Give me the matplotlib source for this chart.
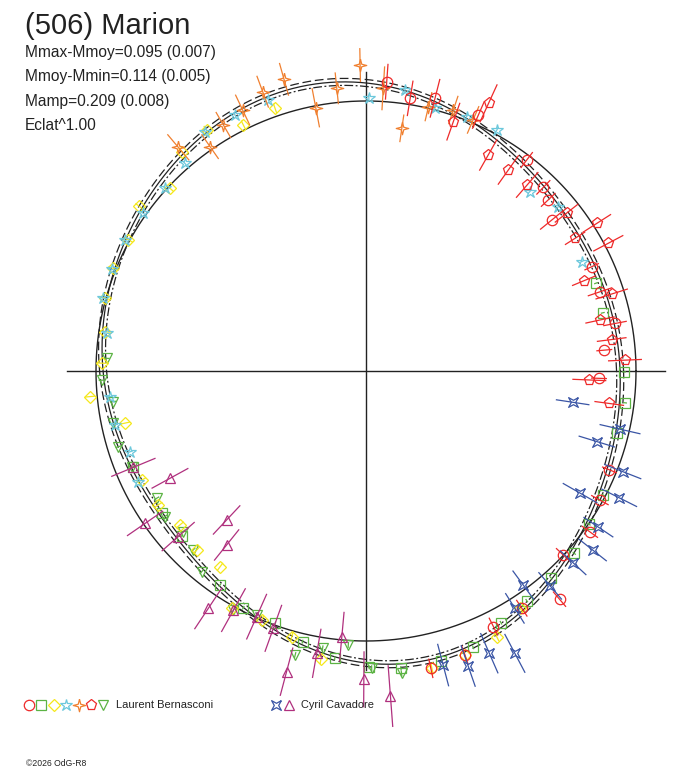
import numpy as np
import matplotlib
matplotlib.use('Agg')
import matplotlib.pyplot as plt
from matplotlib.path import Path
from matplotlib.lines import Line2D
from matplotlib.collections import LineCollection

# ---- data : angle (deg, ccw from east), radius (ref circle = 270), error ----
R_REF = 270.0
AXIS_HALF = 299.0

# fourier fit of the lightcurve (radius units)
fit_a0 = 270.5
fit_cos = [-2.76, -15.75, -1.67, 3.75]
fit_sin = [0.36, -11.98, 2.33, 1.88]
fit_band = 3.5

# Laurent Bernasconi - red circles
rc_ang = [85.9, 80.8, 75.8, 66.3, 52.7, 46.0, 43.2, 39.1, 24.8, 18.7, 10.8, 5.0,
          358.2, 337.9, 331.1, 324.3, 317.0, 310.3, 303.3, 296.5, 289.2, 282.3]
rc_r = [290.0, 276.2, 281.3, 279.5, 265.2, 255.3, 250.0, 239.3, 248.6, 247.1, 253.5, 239.2,
        233.1, 262.7, 267.2, 275.7, 269.8, 299.2, 283.8, 285.6, 300.8, 304.3]
rc_err = [18, 18, 20, 15, 10, 10, 10, 15, 8, 13, 12, 8,
          8, 8, 10, 10, 10, 10, 10, 10, 10, 10]

# green squares
gs_ang = [20.9, 13.8, 359.8, 353.0, 346.2, 332.4, 325.5, 318.8, 311.8, 305.0, 298.2, 291.2,
          284.6, 276.7, 270.6, 263.8, 256.8, 250.2, 242.6, 235.7, 221.8, 214.9, 202.4]
gs_r = [246.2, 243.8, 258.0, 260.9, 258.2, 267.8, 270.5, 276.8, 277.4, 280.3, 285.6, 296.4,
        299.4, 299.3, 296.3, 289.0, 278.0, 268.2, 266.6, 259.1, 247.4, 249.0, 251.6]
gs_err = 2

# yellow diamonds
yd_ang = [109.1, 116.5, 123.5, 130.0, 137.0, 144.0, 151.1, 157.9, 164.4, 171.4, 178.3, 185.3, 192.2,
          205.9, 212.8, 219.6, 226.6, 233.3, 240.5, 247.3, 254.4, 261.1, 282.5, 289.2, 296.2, 303.0]
yd_r = [278.0, 274.9, 288.9, 286.5, 268.0, 280.0, 271.4, 272.8, 271.0, 264.0, 264.4, 277.2, 246.6,
        249.4, 247.2, 241.5, 246.4, 244.2, 272.7, 270.0, 275.9, 291.7, 304.5, 300.8, 296.1, 282.9]
yd_err = 5

# cyan stars
cs_ang = [26.9, 40.5, 47.6, 61.5, 68.4, 75.3, 82.1, 89.4, 109.8, 117.1, 123.9, 131.1, 137.7,
          144.7, 151.5, 158.2, 164.5, 171.7, 185.7, 192.1, 198.9, 205.9]
cs_r = [241.8, 253.0, 243.0, 274.2, 273.5, 271.6, 283.7, 273.5, 288.0, 287.6, 288.4, 275.5, 271.6,
        272.9, 274.3, 273.9, 272.6, 262.0, 257.3, 256.7, 249.4, 253.2]
cs_err = 3

# orange 4-point stars
os_ang = [66.9, 71.5, 76.7, 81.6, 86.5, 91.1, 95.9, 100.8, 105.7, 110.3, 115.3, 120.1, 124.8, 130.0]
os_r = [273.0, 275.2, 271.6, 245.3, 283.2, 306.0, 284.2, 268.0, 303.0, 297.8, 288.7, 284.4, 273.2, 292.0]
os_err = [15, 15, 15, 14, 22, 17, 16, 20, 17, 17, 17, 15, 15, 17]

# red pentagons
rp_ang = [65.4, 70.7, 60.5, 54.7, 49.1, 38.2, 32.4, 32.6, 27.8, 22.5, 17.4, 12.3, 7.3, 2.4,
          357.7, 352.4]
rp_r = [294.3, 264.2, 248.2, 246.3, 246.2, 255.2, 247.6, 273.9, 273.9, 236.0, 257.5, 239.5, 247.7,
        259.2, 223.5, 245.4]
rp_err = [21, 20, 18, 18, 17, 15, 12, 17, 17, 13, 17, 15, 15, 17, 17, 15]

# green triangles down
gt_ang = [177.2, 182.0, 186.9, 191.7, 197.0, 202.4, 211.3, 215.9, 221.3, 226.0, 230.7, 241.0,
          245.9, 256.0, 261.1, 266.3, 271.1, 276.7]
gt_r = [259.6, 264.5, 254.5, 258.0, 259.0, 253.0, 245.0, 248.3, 243.3, 248.7, 259.4, 273.4,
        267.4, 292.7, 280.7, 274.6, 297.3, 304.4]
gt_err = 3

# Cyril Cavadore - blue
cb_ang = [351.4, 347.1, 343.0, 338.6, 333.4, 330.3, 326.1, 321.7, 317.2, 310.6, 306.3, 302.1,
          297.8, 293.6, 289.1, 284.7]
cb_r = [209.0, 260.6, 241.3, 275.7, 283.2, 246.5, 280.0, 288.8, 282.3, 283.0, 265.6, 280.2,
        319.2, 308.0, 312.2, 304.0]
cb_err = [17, 21, 19, 20, 20, 20, 18, 18, 18, 18, 18, 18, 22, 22, 22, 22]

# Cyril Cavadore - magenta triangles
cm_ang = [202.5, 208.7, 214.6, 221.4, 226.9, 231.3, 236.4, 241.0, 246.0, 250.2, 255.2, 260.1,
          264.8, 269.6, 274.3]
cm_r = [251.8, 223.5, 268.4, 250.4, 204.0, 222.9, 285.0, 273.4, 268.9, 273.5, 311.0, 286.6,
        266.8, 308.3, 326.0]
cm_err = [24, 21, 22, 22, 20, 20, 25, 25, 25, 25, 25, 25, 25, 28, 31]

RED = '#ee2a2a'
GREEN = '#5cb344'
YELLOW = '#f5e81a'
CYAN = '#6cc8dc'
ORANGE = '#f08030'
BLUE = '#3a55a5'
MAGENTA = '#b0307e'

star4 = Path([(0, 1), (0.2, 0.2), (1, 0), (0.2, -0.2), (0, -1), (-0.2, -0.2), (-1, 0), (-0.2, 0.2), (0, 1)])
quad = Path([(1, 1), (0, 0.45), (-1, 1), (-0.45, 0), (-1, -1), (0, -0.45), (1, -1), (0.45, 0), (1, 1)])

series = [
    (gs_ang, gs_r, gs_err, 's', GREEN, 6.5),
    (gt_ang, gt_r, gt_err, 'v', GREEN, 7.5),
    (yd_ang, yd_r, yd_err, 'D', YELLOW, 6),
    (cs_ang, cs_r, cs_err, '*', CYAN, 9),
    (os_ang, os_r, os_err, star4, ORANGE, 9),
    (rc_ang, rc_r, rc_err, 'o', RED, 7.5),
    (rp_ang, rp_r, rp_err, 'p', RED, 8),
    (cb_ang, cb_r, cb_err, quad, BLUE, 7),
    (cm_ang, cm_r, cm_err, '^', MAGENTA, 7.5),
]

W, H = 688, 768
fig = plt.figure(figsize=(W / 100, H / 100), dpi=100)
ax = fig.add_axes([0, 0, 1, 1])
ax.set_xlim(-366, W - 366)
ax.set_ylim(-(H - 371), 371)
ax.axis('off')

# axes cross
ax.plot([-AXIS_HALF, AXIS_HALF], [0, 0], color='#222222', lw=1)
ax.plot([0, 0], [-AXIS_HALF, AXIS_HALF], color='#222222', lw=1)

# reference circle
t = np.linspace(0, 2 * np.pi, 721)
ax.plot(R_REF * np.cos(t), R_REF * np.sin(t), color='#222222', lw=1)

# fit + envelopes
r_fit = np.full_like(t, fit_a0)
for k, (a, b) in enumerate(zip(fit_cos, fit_sin), start=1):
    r_fit += a * np.cos(k * t) + b * np.sin(k * t)
ax.plot(r_fit * np.cos(t), r_fit * np.sin(t), color='#222222', lw=0.9)
ax.plot((r_fit + fit_band) * np.cos(t), (r_fit + fit_band) * np.sin(t), color='#222222', lw=0.9,
        ls=(0, (7, 3)))
ax.plot((r_fit - fit_band) * np.cos(t), (r_fit - fit_band) * np.sin(t), color='#222222', lw=0.9,
        ls=(0, (7, 2, 1.5, 2)))

for ang, r, err, mk, col, ms in series:
    th = np.radians(ang)
    r = np.array(r)
    err = np.broadcast_to(np.array(err, dtype=float), r.shape)
    c, s = np.cos(th), np.sin(th)
    segs = [[((ri - ei) * ci, (ri - ei) * si), ((ri + ei) * ci, (ri + ei) * si)]
            for ri, ei, ci, si in zip(r, err, c, s)]
    ax.add_collection(LineCollection(segs, colors=col, linewidths=0.9))
    ax.plot(r * c, r * s, ls='none', marker=mk, ms=ms, mfc='none', mec=col, mew=0.9)

# texts
fam = ['Liberation Sans', 'DejaVu Sans']
fig.text(25 / W, 1 - 26 / H, '(506) Marion', fontsize=21, va='center', color='#222222', family=fam)
info = ['Mmax-Mmoy=0.095 (0.007)', 'Mmoy-Mmin=0.114 (0.005)', 'Mamp=0.209 (0.008)', 'Eclat^1.00']
for i, line in enumerate(info):
    fig.text(25 / W, 1 - (52 + 24.6 * i) / H, line, fontsize=11.2, va='center', color='#222222', family=fam)

# legend
leg_y = 1 - 705 / H
leg1 = [('o', RED, 7.5), ('s', GREEN, 6.5), ('D', YELLOW, 6), ('*', CYAN, 9), (star4, ORANGE, 9),
        ('p', RED, 8), ('v', GREEN, 7.5)]
for i, (mk, col, ms) in enumerate(leg1):
    fig.add_artist(Line2D([(29 + 12.4 * i) / W], [leg_y], marker=mk, ms=ms, mfc='none', mec=col, mew=0.9,
                          ls='none', transform=fig.transFigure))
fig.text(116 / W, leg_y, 'Laurent Bernasconi', fontsize=8, va='center', color='#222222', family=fam)
for i, (mk, col, ms) in enumerate([(quad, BLUE, 7), ('^', MAGENTA, 7.5)]):
    fig.add_artist(Line2D([(276 + 12.7 * i) / W], [leg_y], marker=mk, ms=ms, mfc='none', mec=col, mew=0.9,
                          ls='none', transform=fig.transFigure))
fig.text(301 / W, leg_y, 'Cyril Cavadore', fontsize=7.9, va='center', color='#222222', family=fam)

fig.text(26 / W, 1 - 763 / H, '\u00a92026 OdG-R8', fontsize=6.2, va='center', color='#222222', family=fam)

fig.savefig('out.png', dpi=100)
